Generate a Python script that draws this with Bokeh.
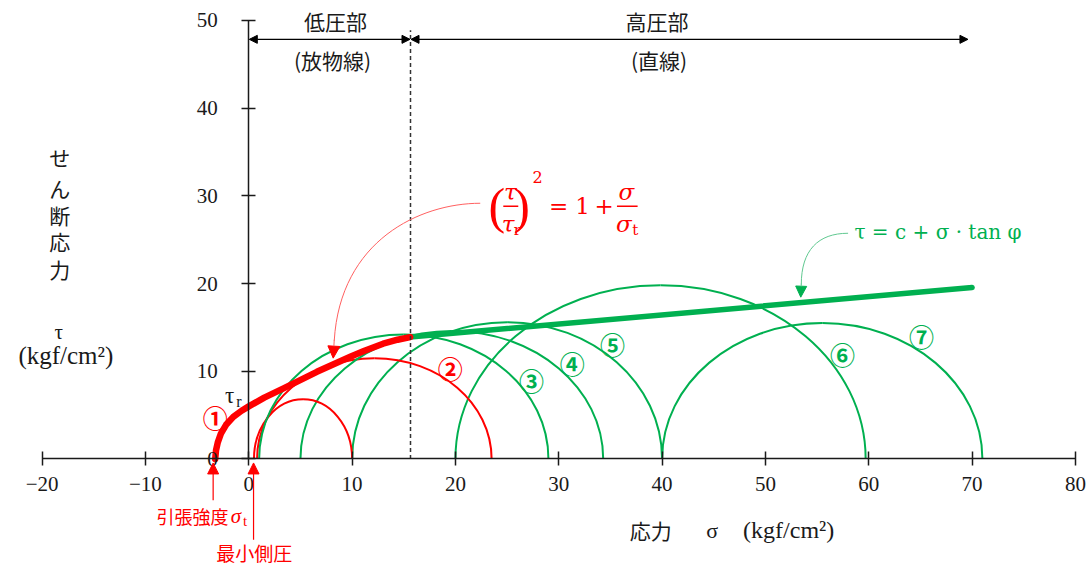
import numpy as np
from bokeh.plotting import figure
from bokeh.models import Range1d, LinearAxis, FixedTicker, Arrow, NormalHead
from bokeh.core.properties import value
from bokeh.embed import file_html
from bokeh.resources import INLINE

# ---------------- data ----------------
x_ticks = [-20, -10, 0, 10, 20, 30, 40, 50, 60, 70, 80]
y_ticks = [0, 10, 20, 30, 40, 50]

circle_names = ["①", "②", "③", "④", "⑤", "⑥", "⑦"]
sigma3 = [0.5, 0.8, 1.0, 5.0, 10.0, 20.0, 40.0]        # left end of each Mohr circle
sigma1 = [10.0, 23.5, 29.0, 34.3, 40.0, 59.7, 71.0]    # right end
tau_top = [6.8, 11.5, 14.2, 14.6, 15.6, 19.8, 15.5]    # top of each circle
circle_colors = ["#FF0000", "#FF0000", "#00B050", "#00B050", "#00B050", "#00B050", "#00B050"]
label_sigma = [-3.25, 19.5, 27.35, 31.3, 35.2, 57.45, 65.1]
label_tau = [4.78, 10.36, 9.0, 10.93, 13.1, 11.96, 14.0]

# low-pressure (parabolic) envelope
env_sigma = [-3.25, -3.17, -3.0, -2.7, -2.2, -1.5, -0.7, 0.0, 1.5, 3.36, 6.59, 9.82, 11.2, 13.0, 14.4, 15.62]
env_tau = [0.0, 1.0, 1.9, 2.9, 3.9, 4.8, 5.5, 6.0, 7.0, 8.05, 9.94, 11.65, 12.35, 13.15, 13.6, 13.9]
# high-pressure (straight) envelope
line_sigma = [15.62, 70.0]
line_tau = [13.9, 19.55]

sigma_t = -3.45          # tensile strength
sigma_min = 0.46         # minimum confining pressure
sigma_boundary = 15.65   # low / high pressure boundary

RED = "#FF0000"
GREEN = "#00B050"
SERIF = "Liberation Serif"
CJK = "Noto Sans CJK JP"
INK = "#1a1a1a"

# ---------------- figure ----------------
p = figure(width=1087, height=569,
           x_range=Range1d(-24.03, 81.17), y_range=Range1d(-12.60, 52.28),
           x_axis_location=None, y_axis_location=None,
           toolbar_location=None, output_backend="svg", min_border=0)
p.outline_line_color = None
p.grid.visible = False
p.background_fill_color = "white"
p.border_fill_color = "white"

xaxis = LinearAxis(fixed_location=0, bounds=(-20, 80), ticker=FixedTicker(ticks=x_ticks))
yaxis = LinearAxis(fixed_location=0, bounds=(0, 50), ticker=FixedTicker(ticks=y_ticks))
xaxis.major_label_overrides = {t: (("\u2212" + str(-t)) if t < 0 else str(t)) for t in x_ticks}
for ax in (xaxis, yaxis):
    ax.axis_line_width = 1.5
    ax.axis_line_color = INK
    ax.major_tick_line_color = INK
    ax.major_tick_line_width = 1.5
    ax.major_tick_in = 7
    ax.major_tick_out = 7
    ax.minor_tick_line_color = None
    ax.major_label_text_font = SERIF
    ax.major_label_text_font_size = "21px"
    ax.major_label_text_color = INK
xaxis.major_label_standoff = 11
yaxis.major_label_standoff = 24
p.add_layout(xaxis, "below")
p.add_layout(yaxis, "left")

# ---------------- Mohr circles (upper half ellipses as two cubic Beziers) ----------------
k = 0.5523
s3 = np.array(sigma3); s1 = np.array(sigma1); b = np.array(tau_top)
c = (s3 + s1) / 2.0
a = (s1 - s3) / 2.0
zeros = np.zeros_like(c)
p.bezier(x0=np.concatenate([s3, c]), y0=np.concatenate([zeros, b]),
         x1=np.concatenate([c, s1]), y1=np.concatenate([b, zeros]),
         cx0=np.concatenate([s3, c + k * a]), cy0=np.concatenate([k * b, b]),
         cx1=np.concatenate([c - k * a, s1]), cy1=np.concatenate([b, k * b]),
         line_color=circle_colors + circle_colors, line_width=2)

p.text(x=label_sigma, y=label_tau, text=circle_names, text_color=circle_colors,
       text_font=value(CJK), text_font_style="bold", text_font_size="25px",
       text_align="center", text_baseline="middle")

# ---------------- envelopes ----------------
p.line(line_sigma, line_tau, line_color=GREEN, line_width=5.5, line_cap="round")
p.line(env_sigma, env_tau, line_color=RED, line_width=6.5, line_cap="round", line_join="round")

# boundary dashed line
p.line([sigma_boundary, sigma_boundary], [0, 48.9], line_color="#333333", line_width=1.5, line_dash="4 3")

# top range arrows
for xs, xe in ((0.05, sigma_boundary - 0.05), (sigma_boundary + 0.05, 69.6)):
    p.add_layout(Arrow(start=NormalHead(size=8, fill_color="black", line_color="black"),
                       end=NormalHead(size=8, fill_color="black", line_color="black"),
                       x_start=xs, y_start=47.85, x_end=xe, y_end=47.85,
                       line_color="black", line_width=1.2))

p.text(x=[8.4, 39.5], y=[49.9, 49.9], text=["低圧部", "高圧部"], text_font=value(CJK),
       text_font_size="21px", text_align="center", text_baseline="middle", text_color=INK)
p.text(x=[8.1, 39.7], y=[45.5, 45.5], text=["(放物線)", "(直線)"], text_font=value(CJK),
       text_font_size="21px", text_align="center", text_baseline="middle", text_color=INK)

# ---------------- axis titles ----------------
p.text(x=[-18.3] * 5, y=[34.41, 30.94, 27.82, 24.86, 21.67], text=["せ", "ん", "断", "応", "力"],
       text_font=value(CJK), text_font_size="21px", text_align="center", text_baseline="middle",
       text_color=INK)
p.text(x=[-18.4], y=[14.5], text=["τ"], text_font=value(SERIF), text_font_size="21px",
       text_align="center", text_baseline="middle", text_color=INK)
p.text(x=[-17.7], y=[11.8], text=["(kgf/cm²)"], text_font=value(SERIF), text_font_size="25px",
       text_align="center", text_baseline="middle", text_color=INK)

p.text(x=[38.9], y=[-8.1], text=["応力"], text_font=value(CJK), text_font_size="21px",
       text_align="center", text_baseline="middle", text_color=INK)
p.text(x=[44.85], y=[-8.1], text=["σ"], text_font=value(SERIF), text_font_size="22px",
       text_align="center", text_baseline="middle", text_color=INK)
p.text(x=[52.25], y=[-8.1], text=["(kgf/cm²)"], text_font=value(SERIF), text_font_size="24px",
       text_align="center", text_baseline="middle", text_color=INK)

# tau_r label
p.text(x=[-1.85], y=[7.2], text=["τ"], text_font=value(SERIF), text_font_size="23px",
       text_align="center", text_baseline="middle", text_color=INK)
p.text(x=[-0.95], y=[6.55], text=["r"], text_font=value(SERIF), text_font_size="16px",
       text_align="center", text_baseline="middle", text_color=INK)

# ---------------- red arrows below axis ----------------
for xs, ys in ((sigma_t, -4.7), (sigma_min, -9.2)):
    p.add_layout(Arrow(end=NormalHead(size=11, fill_color=RED, line_color=RED),
                       x_start=xs, y_start=ys, x_end=xs, y_end=-0.45,
                       line_color=RED, line_width=1.2))
p.text(x=[-5.45], y=[-6.55], text=["引張強度"], text_font=value(CJK), text_font_size="18px",
       text_align="center", text_baseline="middle", text_color=RED)
p.text(x=[-1.25], y=[-6.55], text=["σ"], text_font=value(SERIF), text_font_style="italic",
       text_font_size="21px", text_align="center", text_baseline="middle", text_color=RED)
p.text(x=[-0.35], y=[-7.1], text=["t"], text_font=value(SERIF),
       text_font_size="15px", text_align="center", text_baseline="middle", text_color=RED)
p.text(x=[0.54], y=[-10.7], text=["最小側圧"], text_font=value(CJK), text_font_size="19px",
       text_align="center", text_baseline="middle", text_color=RED)

# ---------------- red formula ----------------
p.text(x=[24.0, 26.4], y=[28.9, 28.9], text=["(", ")"], text_font=value(SERIF),
       text_font_size="50px", text_align="center", text_baseline="middle", text_color=RED)
p.segment(x0=[24.63, 35.63], y0=[28.82, 28.82], x1=[26.08, 37.63], y1=[28.82, 28.82],
          line_color=RED, line_width=1.6)
p.text(x=[25.31, 25.1, 36.55, 36.3], y=[30.5, 26.75, 30.5, 26.75], text=["τ", "τ", "σ", "σ"],
       text_font=value("DejaVu Serif"), text_font_style="italic", text_font_size="23px",
       text_align="center", text_baseline="middle", text_color=RED)
p.text(x=[26.0, 37.4], y=[26.15, 26.15], text=["r", "t"], text_font=value("DejaVu Serif"),
       text_font_size="15px", text_align="center", text_baseline="middle", text_color=RED)
p.text(x=[27.95], y=[32.1], text=["2"], text_font=value("DejaVu Serif"),
       text_font_size="16px", text_align="center", text_baseline="middle", text_color=RED)
p.text(x=[29.98, 32.3, 34.4], y=[28.82, 28.82, 28.82], text=["=", "1", "+"],
       text_font=value("DejaVu Serif"), text_font_size="23px", text_align="center",
       text_baseline="middle", text_color=RED)
# red leader
p.bezier(x0=[22.40], y0=[29.16], x1=[8.27], y1=[13.5], cx0=[16.59], cy0=[29.16], cx1=[8.85], cy1=[24.94],
         line_color="#FF6060", line_width=1)
p.add_layout(Arrow(end=NormalHead(size=12, fill_color=RED, line_color=RED),
                   x_start=8.27, y_start=13.6, x_end=8.17, y_end=11.5, line_color="#FF6060", line_width=1))

# ---------------- green formula ----------------
p.text(x=[66.7], y=[25.85], text=["τ = c + σ · tan φ"], text_font=value("DejaVu Serif"),
       text_font_size="20px", text_align="center", text_baseline="middle", text_color=GREEN)
p.bezier(x0=[58.0], y0=[25.74], x1=[53.47], y1=[19.9], cx0=[55.1], cy0=[25.74], cx1=[53.47], cy1=[23.8],
         line_color="#60C890", line_width=1)
p.add_layout(Arrow(end=NormalHead(size=11, fill_color=GREEN, line_color=GREEN),
                   x_start=53.47, y_start=20.0, x_end=53.42, y_end=18.45, line_color="#60C890", line_width=1))

open("out.html", "w").write(file_html(p, INLINE))
